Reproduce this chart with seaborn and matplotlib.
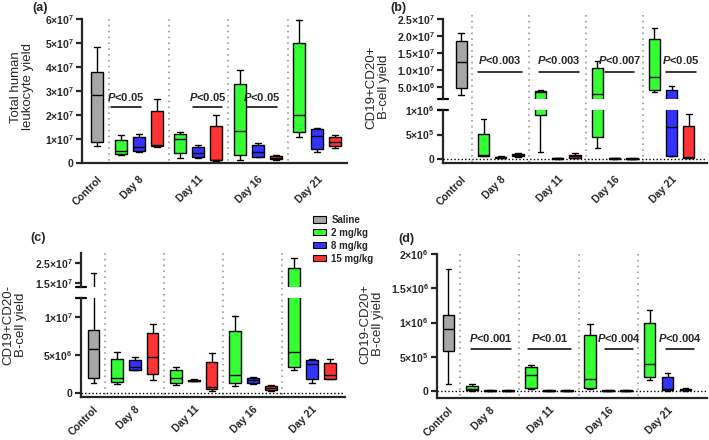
import numpy as np
import pandas as pd
import seaborn as sns
import matplotlib.pyplot as plt
import matplotlib.transforms as mtransforms
from matplotlib.patches import Patch

sns.set_style('ticks')
plt.rcParams['font.family'] = ['Liberation Sans', 'DejaVu Sans']
plt.rcParams['mathtext.fontset'] = 'custom'
plt.rcParams['mathtext.it'] = 'Liberation Sans:italic:bold'
plt.rcParams['mathtext.rm'] = 'Liberation Sans:bold'

# Categories
days = ['Day 8', 'Day 11', 'Day 16', 'Day 21']
doses = ['Saline', '2 mg/kg', '8 mg/kg', '15 mg/kg']
dose_colors = ['#A6A6A6', '#33FF33', '#3333FF', '#FF3333']
x_labels = ['Control'] + days

# Five-number summaries: min, q1, median, q3, max
# (one list per day: Day 8, Day 11, Day 16, Day 21)

# (a) total human leukocyte yield
leuko_saline = [0.72e7, 0.86e7, 2.82e7, 3.78e7, 4.82e7]
leuko_2mg = [[0.33e7, 0.375e7, 0.51e7, 0.97e7, 1.17e7],
             [0.21e7, 0.40e7, 0.99e7, 1.19e7, 1.29e7],
             [0.13e7, 0.35e7, 1.35e7, 3.29e7, 3.86e7],
             [1.07e7, 1.28e7, 2.01e7, 5.00e7, 5.94e7]]
leuko_8mg = [[0.46e7, 0.49e7, 0.65e7, 1.10e7, 1.22e7],
             [0.19e7, 0.25e7, 0.40e7, 0.68e7, 0.76e7],
             [0.24e7, 0.26e7, 0.44e7, 0.75e7, 0.83e7],
             [0.44e7, 0.58e7, 1.11e7, 1.42e7, 1.47e7]]
leuko_15mg = [[0.67e7, 0.69e7, 0.75e7, 2.18e7, 2.68e7],
              [0.08e7, 0.11e7, 0.14e7, 1.53e7, 2.01e7],
              [0.14e7, 0.15e7, 0.22e7, 0.29e7, 0.33e7],
              [0.62e7, 0.69e7, 0.87e7, 1.07e7, 1.15e7]]

# (b) CD19+CD20+ B-cell yield
bpos_saline = [2.5e6, 4.5e6, 1.22e7, 1.86e7, 2.10e7]
bpos_2mg = [[5.4e4, 6.8e4, 8.8e4, 5.1e5, 8.1e5],
            [1.4e5, 9.0e5, 3.6e6, 3.8e6, 4.0e6],
            [2.2e5, 4.5e5, 2.9e6, 1.04e7, 1.27e7],
            [3.4e6, 4.2e6, 8.0e6, 1.91e7, 2.22e7]]
bpos_8mg = [[1.5e4, 2.5e4, 4.0e4, 5.0e4, 6.5e4],
            [5e3, 1.0e4, 1.5e4, 2.0e4, 2.5e4],
            [5e3, 1.0e4, 2.0e4, 2.5e4, 3.0e4],
            [5.4e4, 6.8e4, 6.6e5, 4.2e6, 5.3e6]]
bpos_15mg = [[4.0e4, 5.4e4, 7.4e4, 9.5e4, 1.2e5],
             [1.4e4, 2.7e4, 5.4e4, 8.8e4, 1.2e5],
             [3e3, 5e3, 1.0e4, 1.5e4, 2.0e4],
             [2.0e4, 2.7e4, 4.0e4, 6.8e5, 9.1e5]]

# (c) CD19+CD20- B-cell yield
bneg_saline = [1.37e6, 1.99e6, 5.75e6, 8.3e6, 1.98e7]
bneg_2mg = [[1.24e6, 1.46e6, 2.04e6, 4.47e6, 5.44e6],
            [1.10e6, 1.33e6, 1.99e6, 3.10e6, 3.45e6],
            [9.3e5, 1.33e6, 2.35e6, 8.19e6, 1.02e7],
            [3.0e6, 3.45e6, 5.44e6, 2.24e7, 2.76e7]]
bneg_8mg = [[3.0e6, 3.1e6, 3.45e6, 4.42e6, 4.69e6],
            [1.55e6, 1.60e6, 1.64e6, 1.73e6, 1.81e6],
            [1.15e6, 1.37e6, 1.73e6, 1.99e6, 2.17e6],
            [1.37e6, 1.90e6, 3.80e6, 4.34e6, 4.47e6]]
bneg_15mg = [[1.77e6, 2.57e6, 4.78e6, 7.92e6, 9.07e6],
             [3.5e5, 4.9e5, 8.0e5, 4.07e6, 5.22e6],
             [3.5e5, 4.4e5, 6.6e5, 9.3e5, 1.02e6],
             [1.81e6, 1.90e6, 2.43e6, 4.03e6, 4.47e6]]

# (d) CD19-CD20+ B-cell yield
cd19neg_saline = [9.7e4, 5.82e5, 9.13e5, 1.107e6, 1.786e6]
cd19neg_2mg = [[5e3, 1.0e4, 2.9e4, 7.3e4, 1.02e5],
               [2.4e4, 5.3e4, 2.33e5, 3.54e5, 3.88e5],
               [2.4e4, 3.9e4, 1.84e5, 8.15e5, 9.85e5],
               [1.65e5, 1.99e5, 3.93e5, 1.0e6, 1.18e6]]
cd19neg_8mg = [[0, 4e3, 8e3, 1.2e4, 1.5e4],
               [0, 4e3, 8e3, 1.2e4, 1.5e4],
               [0, 4e3, 8e3, 1.2e4, 1.5e4],
               [5e3, 1.5e4, 2.9e4, 1.99e5, 2.67e5]]
cd19neg_15mg = [[0, 4e3, 8e3, 1.2e4, 1.5e4],
                [0, 4e3, 8e3, 1.2e4, 1.5e4],
                [0, 4e3, 8e3, 1.2e4, 1.5e4],
                [5e3, 1.0e4, 1.9e4, 3.4e4, 4.9e4]]

# P-value labels (one per day)
p_a = ['P<0.05', 'P<0.05', 'P<0.05', None]
p_b = ['P<0.003', 'P<0.003', 'P<0.007', 'P<0.05']
p_d = ['P<0.001', 'P<0.01', 'P<0.004', 'P<0.004']

# Tick values / labels
yt_a = [0, 1e7, 2e7, 3e7, 4e7, 5e7, 6e7]
yl_a = ['0', '1×10$^{7}$', '2×10$^{7}$', '3×10$^{7}$', '4×10$^{7}$',
        '5×10$^{7}$', '6×10$^{7}$']
yt_b_low = [0, 5e5, 1e6]
yl_b_low = ['0', '5×10$^{5}$', '1×10$^{6}$']
yt_b_up = [5e6, 1e7, 1.5e7, 2e7, 2.5e7]
yl_b_up = ['5.0×10$^{6}$', '1.0×10$^{7}$', '1.5×10$^{7}$', '2.0×10$^{7}$',
           '2.5×10$^{7}$']
yt_c_low = [0, 5e6, 1e7]
yl_c_low = ['0', '5×10$^{6}$', '1×10$^{7}$']
yt_c_up = [1.5e7, 2.5e7]
yl_c_up = ['1.5×10$^{7}$', '2.5×10$^{7}$']
yt_d = [0, 5e5, 1e6, 1.5e6, 2e6]
yl_d = ['0', '5×10$^{5}$', '1×10$^{6}$', '1.5×10$^{6}$', '2×10$^{6}$']

# ---- layout ----
group_start = 1.3
group_step = 3.3
W, H = 709, 440


def slot(g, k):
    return group_start + group_step * g + k


def px_box(left, right, top, bottom):
    return [left / W, 1 - bottom / H, (right - left) / W, (bottom - top) / H]


def to_frame(saline, d2, d8, d15):
    rows = [(0.0, doses[0], v) for v in saline]
    for k, series in enumerate([d2, d8, d15]):
        for g, stats in enumerate(series):
            rows += [(slot(g, k), doses[k + 1], v) for v in stats]
    return pd.DataFrame(rows, columns=['pos', 'dose', 'value'])


def draw_boxes(ax, df):
    sns.boxplot(data=df, x='pos', y='value', hue='dose', hue_order=doses,
                palette=dose_colors, native_scale=True, dodge=False,
                width=0.65, whis=(0, 100), saturation=1, linecolor='black',
                linewidth=1.0, legend=False, ax=ax)
    ax.set_xlabel('')
    ax.set_ylabel('')


def style(ax, xlim, ylim, yt, yl, bottom=True, xpad=8):
    ax.set_xlim(xlim)
    ax.set_ylim(ylim)
    sns.despine(ax=ax)
    ax.spines['left'].set_linewidth(1.6)
    ax.spines['bottom'].set_linewidth(1.6)
    ax.set_yticks(yt, labels=yl, fontweight='bold', fontsize=7.5)
    ax.tick_params(axis='y', length=4, width=1.6, pad=2)
    centers = [0.0] + [slot(g, 1) for g in range(4)]
    if bottom:
        ax.set_xticks(centers, labels=x_labels, rotation=45, ha='right',
                      rotation_mode='anchor', fontweight='bold', fontsize=7.5)
        ax.tick_params(axis='x', length=0, pad=xpad)
    else:
        ax.spines['bottom'].set_visible(False)
        ax.set_xticks([])


def separators(ax, fig, y0, y1):
    tr = mtransforms.blended_transform_factory(ax.transData, fig.transFigure)
    xs = [(0.0 + group_start) / 2] + [slot(g, 2) + (group_step - 2) / 2 for g in range(3)]
    for x in xs:
        ax.plot([x, x], [1 - y0 / H, 1 - y1 / H], transform=tr, color='#9A9A9A',
                ls=(0, (1, 2.5)), lw=1.2, clip_on=False, zorder=0)


def zero_line(ax):
    ax.axhline(0, color='black', ls=(0, (1, 1.6)), lw=1.0, zorder=0.5)


def p_values(ax, labels, spans, y_line, y_text):
    for g, (lab, sp) in enumerate(zip(labels, spans)):
        if lab is None:
            continue
        x0, x1 = slot(g, 0) + sp[0], slot(g, 0) + sp[1]
        ax.plot([x0, x1], [y_line, y_line], color='black', lw=1.1)
        ax.text((x0 + x1) / 2, y_text, '$P$' + lab[1:], ha='center',
                va='bottom', fontsize=8, fontweight='bold')


def break_caps(ax_up, ax_low):
    ax_up.plot([-0.018, 0.018], [0, 0], transform=ax_up.transAxes,
               color='black', lw=1.6, clip_on=False)
    ax_low.plot([-0.018, 0.018], [1, 1], transform=ax_low.transAxes,
                color='black', lw=1.6, clip_on=False)


fig = plt.figure(figsize=(W / 100, H / 100), dpi=100)

# (a)
ax_a = fig.add_axes(px_box(82, 347, 19, 163))
draw_boxes(ax_a, to_frame(leuko_saline, leuko_2mg, leuko_8mg, leuko_15mg))
style(ax_a, (-0.85, 13.85), (0, 6e7), yt_a, yl_a)
separators(ax_a, fig, 19, 163)
p_values(ax_a, p_a, [(-0.55, 1.1), (0.7, 2.3), (0.4, 2.05)], 2.35e7, 2.5e7)

# (b) broken axis
ax_b_up = fig.add_axes(px_box(443, 707, 19, 99))
ax_b = fig.add_axes(px_box(443, 707, 110, 163))
df_b = to_frame(bpos_saline, bpos_2mg, bpos_8mg, bpos_15mg)
draw_boxes(ax_b_up, df_b)
draw_boxes(ax_b, df_b)
style(ax_b_up, (-1.05, 14.25), (1.4e6, 2.5e7), yt_b_up, yl_b_up, bottom=False)
style(ax_b, (-1.05, 14.25), (-8e4, 1e6), yt_b_low, yl_b_low)
zero_line(ax_b)
separators(ax_b, fig, 15, 163)
break_caps(ax_b_up, ax_b)
p_values(ax_b_up, p_b, [(-0.35, 2.2), (-0.1, 2.25), (0.45, 2.1), (0.7, 2.4)],
         9.5e6, 1.1e7)

# (c) broken axis
ax_c_up = fig.add_axes(px_box(81, 345, 253, 287))
ax_c = fig.add_axes(px_box(81, 345, 298, 397))
df_c = to_frame(bneg_saline, bneg_2mg, bneg_8mg, bneg_15mg)
draw_boxes(ax_c_up, df_c)
draw_boxes(ax_c, df_c)
style(ax_c_up, (-0.7, 14.05), (1.28e7, 3.0e7), yt_c_up, yl_c_up, bottom=False)
style(ax_c, (-0.7, 14.05), (-5e5, 1.25e7), yt_c_low, yl_c_low, xpad=5)
zero_line(ax_c)
separators(ax_c, fig, 253, 397)
break_caps(ax_c_up, ax_c)

# (d)
ax_d = fig.add_axes(px_box(437, 707, 254, 398))
draw_boxes(ax_d, to_frame(cd19neg_saline, cd19neg_2mg, cd19neg_8mg, cd19neg_15mg))
style(ax_d, (-0.64, 14.4), (-1e5, 2e6), yt_d, yl_d, xpad=5)
zero_line(ax_d)
separators(ax_d, fig, 254, 398)
p_values(ax_d, p_d, [(-0.05, 2.2), (-0.15, 2.2), (0.8, 2.4), (0.9, 2.5)],
         6.1e5, 6.9e5)

# y labels and panel letters
ylabels = [('Total human\nleukocyte yield', 22, 87),
           ('CD19+CD20+\nB-cell yield', 378, 87),
           ('CD19+CD20-\nB-cell yield', 15, 325),
           ('CD19-CD20+\nB-cell yield', 372, 324)]
for txt, x, y in ylabels:
    fig.text(x / W, 1 - y / H, txt, rotation=90, ha='center', va='center',
             fontsize=9.5, linespacing=1.1)

for lab, x, y in [('(a)', 32, 2), ('(b)', 390, 2), ('(c)', 30, 232), ('(d)', 398, 233)]:
    fig.text(x / W, 1 - y / H, lab, ha='left', va='top', fontsize=9,
             fontweight='bold')

# legend
handles = [Patch(facecolor=c, edgecolor='black', linewidth=0.8) for c in dose_colors]
fig.legend(handles, doses, loc='upper left', bbox_to_anchor=(308 / W, 1 - 210 / H),
           frameon=False, prop={'weight': 'bold', 'size': 7}, handlelength=1.3,
           handleheight=0.6, handletextpad=0.6, labelspacing=0.3, borderpad=0)

fig.savefig('out.png', dpi=100)
